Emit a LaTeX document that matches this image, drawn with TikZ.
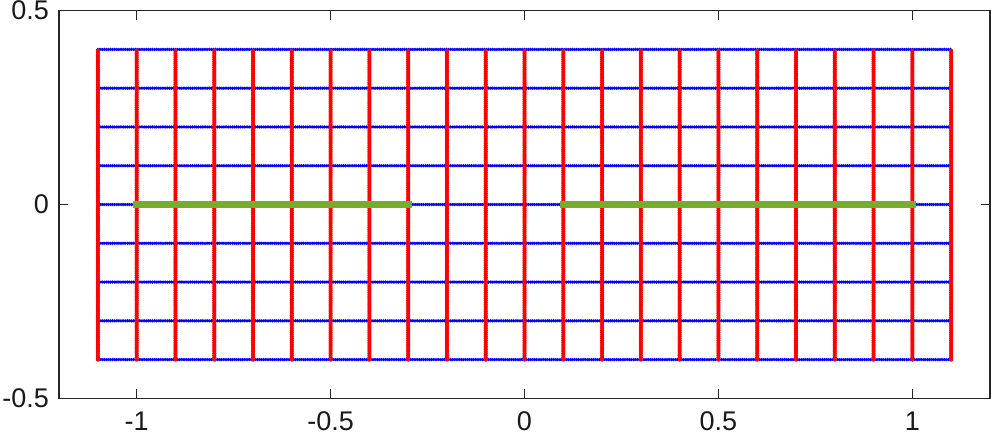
\documentclass[tikz,border=0pt]{standalone}
\usepackage{fontspec}
\setmainfont{Liberation Sans}
\tikzset{
  axisline/.style={draw=black!85, line width=1.4pt},
  bluegrid/.style={draw={rgb,1:red,0;green,0;blue,1}, line width=3.5pt, line cap=round, dash pattern=on 0pt off 2.1pt},
  redgrid/.style={draw={rgb,1:red,1;green,0;blue,0}, line width=4.2pt, line cap=round, dash pattern=on 0pt off 2.1pt},
  greenseg/.style={draw={rgb,255:red,119;green,172;blue,48}, line width=7.5pt, line cap=rect},
  ticklab/.style={font=\fontsize{27}{27}\selectfont, inner sep=0pt, text=black!90},
}
\begin{document}
\begin{tikzpicture}[x=1pt,y=-1pt]
\useasboundingbox (0,0) rectangle (991,438);
\fill[white] (0,0) rectangle (991,438);
\begin{scope}[shift={(524.5,204.5)}, x=387.8pt, y=387.7pt]
  % blue horizontal grid lines
  \foreach \yy in {-0.4,-0.3,...,0.41} {
    \draw[bluegrid] (-1.1,\yy) -- (1.1,\yy);
  }
  % red vertical grid lines
  \foreach \xx in {-1.1,-1.0,...,1.11} {
    \draw[redgrid] (\xx,-0.4) -- (\xx,0.4);
  }
  % green segments
  \draw[greenseg] (-1,0) -- (-0.3,0);
  \draw[greenseg] (0.1,0) -- (1,0);
  % axes box
  \draw[axisline] (-1.2,-0.5) rectangle (1.2,0.5);
  % x ticks
  \foreach \xx/\lab in {-1/-1,-0.5/-0.5,0/0,0.5/0.5,1/1} {
    \draw[axisline] (\xx,-0.5) -- ++(0,0.024);
    \draw[axisline] (\xx,0.5) -- ++(0,-0.024);
    \node[ticklab] at (\xx,-0.5585) {\lab};
  }
  % y ticks
  \foreach \yy/\lab in {-0.5/-0.5,0/0,0.5/0.5} {
    \draw[axisline] (-1.2,\yy) -- ++(0.024,0);
    \draw[axisline] (1.2,\yy) -- ++(-0.024,0);
    \node[ticklab, anchor=east] at (-1.2256,\yy) {\lab};
  }
\end{scope}
\end{tikzpicture}
\end{document}
